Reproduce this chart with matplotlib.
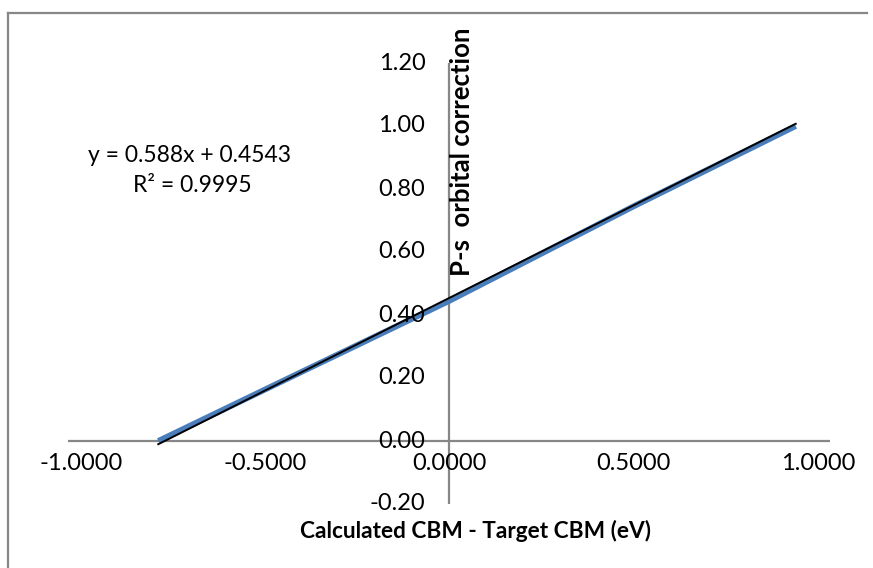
import numpy as np
import matplotlib
matplotlib.use("Agg")
import matplotlib.pyplot as plt
from matplotlib.lines import Line2D

# Data series: CBM offset vs. P-s orbital correction
cbm_offset = [-0.79, -0.40, 0.00, 0.50, 0.94]
ps_correction = [0.00, 0.22, 0.445, 0.745, 1.00]

# Linear trendline coefficients shown on the chart
slope = 0.588
intercept = 0.4543
r_squared = 0.9995

x_ticks = [-1.0, -0.5, 0.0, 0.5, 1.0]
y_ticks = [-0.2, 0.0, 0.2, 0.4, 0.6, 0.8, 1.0, 1.2]

plt.rcParams['font.family'] = ['Lato', 'DejaVu Sans']
FS = 17
axis_grey = '#878787'

fig = plt.figure(figsize=(8.73, 5.68), dpi=100)
ax = fig.add_axes([68 / 873, 1 - 504 / 568, 762 / 873, 441 / 568])
ax.set_xlim(-1.035, 1.033)
ax.set_ylim(-0.2, 1.2)

# Data line and trendline
ax.plot(cbm_offset, ps_correction, color='#4a7ebb', lw=4.2,
        solid_capstyle='butt', zorder=3)
tx = np.array([min(cbm_offset), max(cbm_offset)])
ax.plot(tx, slope * tx + intercept, color='black', lw=1.4, zorder=4)

# Axes crossing at the origin
for s in ('top', 'right', 'left', 'bottom'):
    ax.spines[s].set_visible(False)
ax.axhline(0, color=axis_grey, lw=1.6, zorder=1)
ax.axvline(0, color=axis_grey, lw=1.6, zorder=1)
ax.set_xticks([])
ax.set_yticks([])

# Tick labels drawn beside the crossing axes
for v in y_ticks:
    ax.annotate(f"{v:.2f}", xy=(0, v), xytext=(-24, 0),
                textcoords='offset pixels', ha='right', va='center',
                fontsize=FS, color='black')
for v in x_ticks:
    ax.annotate(f"{v:.4f}", xy=(v, 0), xytext=(0, -22),
                textcoords='offset pixels', ha='center', va='center',
                fontsize=FS, color='black')

# Trendline equation
fig.text(190 / 873, 1 - 155 / 568, f"y = {slope}x + {intercept}",
         ha='center', va='center', fontsize=16.5)
fig.text(192 / 873, 1 - 185 / 568, f"R² = {r_squared}",
         ha='center', va='center', fontsize=16.5)

# Axis titles
fig.text(462 / 873, 1 - 152 / 568, "P-s  orbital correction", rotation=90,
         ha='center', va='center', fontsize=18.5, fontweight='bold')
fig.text(476 / 873, 1 - 531 / 568, "Calculated CBM - Target CBM (eV)",
         ha='center', va='center', fontsize=16.3, fontweight='bold')

# Chart area frame
fig.add_artist(Line2D([8 / 873, 8 / 873], [0, 1 - 13 / 568],
                      transform=fig.transFigure, color=axis_grey, lw=1.6))
fig.add_artist(Line2D([8 / 873, 867 / 873], [1 - 13 / 568, 1 - 13 / 568],
                      transform=fig.transFigure, color=axis_grey, lw=1.6))

fig.savefig('out.png', dpi=100)
